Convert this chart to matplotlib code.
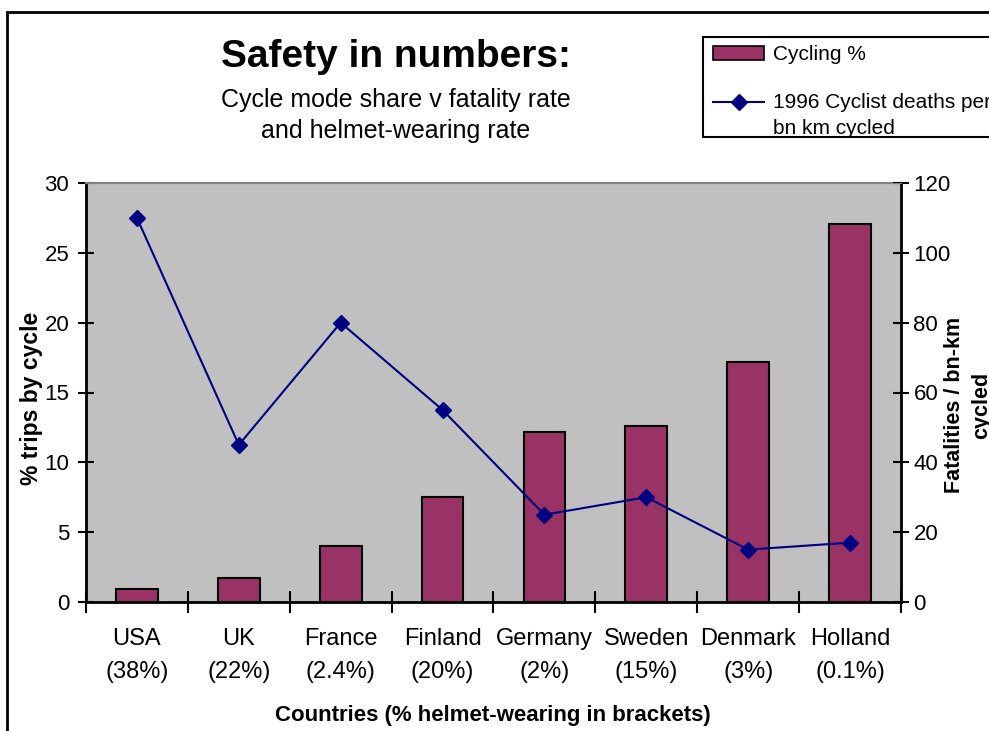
import matplotlib
matplotlib.use("Agg")
import matplotlib.pyplot as plt
from matplotlib.patches import Rectangle
from matplotlib.lines import Line2D
import numpy as np

countries = ["USA", "UK", "France", "Finland", "Germany", "Sweden", "Denmark", "Holland"]
helmet = ["38%", "22%", "2.4%", "20%", "2%", "15%", "3%", "0.1%"]
cycling_pct = [0.9, 1.7, 4.0, 7.5, 12.2, 12.6, 17.2, 27.1]
deaths = [110, 45, 80, 55, 25, 30, 15, 17]

W, H = 989, 731
plt.rcParams['font.family'] = ['Liberation Sans', 'DejaVu Sans']
fig = plt.figure(figsize=(W / 100, H / 100), dpi=100)

def fx(px):
    return px / W

def fy(py):
    return 1 - py / H

# outer chart border (extends beyond visible area)
fig.patches.append(Rectangle((fx(7), fy(731 + 50)), 2, fy(12) - fy(781),
                             transform=fig.transFigure, fill=False,
                             edgecolor="black", linewidth=2))

ax = fig.add_axes([fx(86), fy(602), fx(901) - fx(86), fy(183) - fy(602)])
ax.set_facecolor("#C0C0C0")
x = np.arange(len(countries))
ax.bar(x, cycling_pct, width=0.41, color="#993366", edgecolor="black", linewidth=1.5, zorder=2)
ax.set_xlim(-0.5, len(countries) - 0.5)
ax.set_ylim(0, 30)
ax.set_yticks(np.arange(0, 31, 5))
ax.set_xticks(np.arange(-0.5, len(countries), 1.0))
ax.set_xticklabels([])
ax.set_xticks(x, minor=True)
ax.set_xticklabels([f"{c}\n({h})" for c, h in zip(countries, helmet)], minor=True,
                   fontsize=17, linespacing=1.6)
ax.tick_params(axis="x", which="major", direction="inout", length=16, width=1.5)
ax.tick_params(axis="x", which="minor", length=0, pad=19)
ax.tick_params(axis="y", direction="inout", length=12, width=1.5, labelsize=16, pad=6)
for s in ["left", "bottom"]:
    ax.spines[s].set_linewidth(2)
ax.spines["top"].set_color("#808080")
ax.spines["top"].set_linewidth(1.5)
ax.spines["right"].set_visible(False)
ax.set_ylabel("% trips by cycle", fontsize=16.5, fontweight="bold")
ax.yaxis.label.set_va("center")
ax.yaxis.set_label_coords((32 - 86) / 815, (602 - 398) / 419)
ax.set_xlabel("Countries (% helmet-wearing in brackets)", fontsize=16, fontweight="bold")
ax.xaxis.label.set_va("center")
ax.xaxis.set_label_coords((493 - 86) / 815, (602 - 716) / 419)

ax2 = ax.twinx()
ax2.plot(x, deaths, color="#000080", linewidth=1.5, marker="D", markersize=8, zorder=3)
ax2.set_ylim(0, 120)
ax2.set_yticks(np.arange(0, 121, 20))
ax2.tick_params(axis="y", direction="inout", length=12, width=1.5, labelsize=16, pad=3)
ax2.spines["right"].set_linewidth(2)
ax2.spines["top"].set_color("#808080")
ax2.spines["left"].set_visible(False)
ax2.spines["bottom"].set_visible(False)
ax2.set_ylabel("Fatalities / bn-km\ncycled", fontsize=15.5, fontweight="bold",
               linespacing=1.35)
ax2.yaxis.label.set_va("center")
ax2.yaxis.set_label_coords((968 - 86) / 815, (602 - 405) / 419)

# titles
fig.text(fx(396), fy(57), "Safety in numbers:", ha="center", va="center",
         fontsize=28, fontweight="bold")
fig.text(fx(396), fy(100), "Cycle mode share v fatality rate", ha="center", va="center",
         fontsize=18)
fig.text(fx(396), fy(131), "and helmet-wearing rate", ha="center", va="center",
         fontsize=18)

# legend (manual, clipped at figure edge)
fig.patches.append(Rectangle((fx(703), fy(137)), fx(1100) - fx(703), fy(37) - fy(137),
                             transform=fig.transFigure, facecolor="white",
                             edgecolor="black", linewidth=1.5, zorder=5))
fig.patches.append(Rectangle((fx(713), fy(60)), fx(764) - fx(713), fy(46) - fy(60),
                             transform=fig.transFigure, facecolor="#993366",
                             edgecolor="black", linewidth=1.2, zorder=6))
fig.lines.append(Line2D([fx(713), fx(764)], [fy(102), fy(102)], transform=fig.transFigure,
                        color="#000080", linewidth=1.5, zorder=6))
fig.lines.append(Line2D([fx(738.5)], [fy(102)], transform=fig.transFigure, color="#000080",
                        marker="D", markersize=8, zorder=6))
fig.text(fx(773), fy(54), "Cycling %", ha="left", va="center", fontsize=15, zorder=7)
fig.text(fx(773), fy(102), "1996 Cyclist deaths per", ha="left", va="center", fontsize=15, zorder=7)
fig.text(fx(773), fy(128), "bn km cycled", ha="left", va="center", fontsize=15, zorder=7)

fig.savefig("out.png", dpi=100)
